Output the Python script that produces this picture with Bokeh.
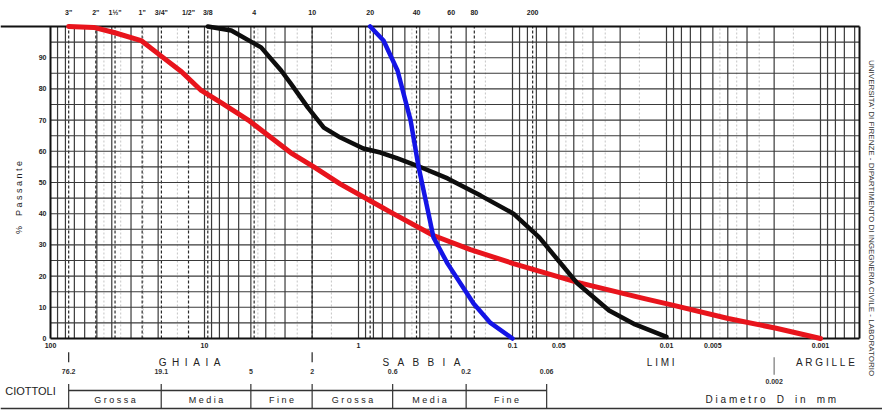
import math
from bokeh.plotting import figure
from bokeh.models import Range1d
from bokeh.embed import file_html
from bokeh.resources import INLINE
from bokeh.core.properties import value

FONT = "Liberation Sans"
NB = "\u00a0"

# ---------------- data (diameter in mm, % passing) ----------------
red_d = [76.2, 52.4, 38.2, 25.8, 19.1, 14.1, 10.5, 7.76, 5.2, 2.75, 1.95, 1.31,
         0.72, 0.62, 0.326, 0.1875, 0.0986, 0.0378, 0.0139, 0.00898, 0.00398, 0.00194, 0.001]
red_p = [100, 99.7, 98, 95.5, 90.5, 85.5, 79.5, 75.5, 70, 59.5, 55, 49.5,
         42.3, 40.5, 33, 28.5, 24, 18, 12.8, 10.6, 6.4, 3.3, 0]

black_d = [9.52, 6.70, 4.29, 3.18, 2.75, 2.13, 1.68, 1.31, 0.93, 0.72, 0.558, 0.408,
           0.264, 0.161, 0.0986, 0.067, 0.0504, 0.0378, 0.0236, 0.016, 0.01]
black_p = [100, 98.7, 93.3, 85.9, 81.7, 74, 67.6, 64.4, 60.9, 59.6, 57.7, 55.2,
           51.3, 45.8, 40, 32.4, 25, 17.6, 9, 4.5, 0.5]

blue_d = [0.84, 0.688, 0.558, 0.459, 0.408, 0.351, 0.326, 0.264, 0.179, 0.139, 0.1]
blue_p = [100, 95.5, 85.9, 69.9, 55.2, 40, 32.4, 24, 11.2, 5, 0]

y_ticks = [0, 10, 20, 30, 40, 50, 60, 70, 80, 90]
h_lines = [5, 10, 15, 20, 25, 30, 35, 40, 45, 50, 55, 60, 65, 70, 75, 80, 85, 90, 95]

sieve_mm = [76.2, 50.8, 38.1, 25.4, 19.05, 12.7, 9.52, 4.76, 2.0, 0.84, 0.42, 0.25, 0.177, 0.074]
sieve_labels = ['3"', '2"', '1½"', '1"', '3/4"', '1/2"', '3/8', '4', '10', '20', '40', '60', '80', '200']

x_ticks = [100, 10, 1, 0.1, 0.05, 0.01, 0.005, 0.001]
x_tick_labels = ["100", "10", "1", "0.1", "0.05", "0.01", "0.005", "0.001"]

classes = ["GHIAIA", "SABBIA", "LIMI", "ARGILLE"]
class_gap = [2, 3, 1, 1]
class_pos = [12.5, 0.39, 0.0109, 0.00093]

bounds = [76.2, 19.1, 5, 2, 0.6, 0.2, 0.06]
bound_labels = ["76.2", "19.1", "5", "2", "0.6", "0.2", "0.06"]
main_bounds = [76.2, 2]
clay_bound = [0.002]
clay_label = ["0.002"]

sub_classes = ["Grossa", "Media", "Fine", "Grossa", "Media", "Fine"]

y_title = "% Passante"
side_text = "UNIVERSITA' DI FIRENZE - DIPARTIMENTO DI INGEGNERIA CIVILE - LABORATORIO"


def spaced(s, n=1):
    return (NB * n).join(ch if ch != " " else NB * 2 for ch in s)


# ---------------- figure: the frame is the whole sheet ----------------
X0, X1 = 211.2, 0.0003957     # full width of the sheet
XL, XR = 100, 0.000558        # border of the diagram
p = figure(width=882, height=418, x_axis_type="log",
           x_axis_location=None, y_axis_location=None,
           x_range=Range1d(X0, X1), y_range=Range1d(-25.64, 108.33),
           toolbar_location=None, output_backend="svg",
           min_border_left=0, min_border_right=0, min_border_top=0, min_border_bottom=0)
p.outline_line_color = None
p.background_fill_color = "white"
p.border_fill_color = "white"
p.xgrid.grid_line_color = None
p.ygrid.grid_line_color = None

# ---------------- grid of the paper ----------------
solid_x, faint_x = [], []
for k in range(-4, 2):
    for m in range(1, 10):
        v = m * 10 ** k
        if XR < v < XL:
            solid_x.append(v)
    for m in (1.5, 2.5, 3.5, 4.5):
        v = m * 10 ** k
        if XR < v < XL:
            faint_x.append(v)

p.segment(x0=faint_x, y0=[0] * len(faint_x), x1=faint_x, y1=[100] * len(faint_x),
          line_color="#c4c4c4", line_width=1, line_dash="2 2")
p.segment(x0=solid_x, y0=[0] * len(solid_x), x1=solid_x, y1=[100] * len(solid_x),
          line_color="#3a3a3a", line_width=1.2)
p.segment(x0=sieve_mm, y0=[0] * len(sieve_mm), x1=sieve_mm, y1=[100] * len(sieve_mm),
          line_color="#2a2a2a", line_width=1.2, line_dash="3 2")
p.segment(x0=[XL] * len(h_lines), y0=h_lines, x1=[XR] * len(h_lines), y1=h_lines,
          line_color="#3a3a3a", line_width=1.1)
p.segment(x0=[XL, X0, XL, XR], y0=[0, 100, 0, 0], x1=[XR, XR, XL, XR], y1=[0, 100, 100, 100],
          line_color="#111111", line_width=2)

# top labels: sieve numbers
p.text(x=sieve_mm, y=[104.4] * len(sieve_mm), text=sieve_labels,
       text_font=value(FONT), text_font_size="7px", text_font_style="bold",
       text_align="center", text_baseline="middle", text_color="#222222")

# y tick labels and title
p.text(x=[XL] * len(y_ticks), y=y_ticks, text=[str(t) for t in y_ticks], x_offset=-4,
       text_font=value(FONT), text_font_size="7px", text_font_style="bold",
       text_align="right", text_baseline="middle", text_color="#222222")
p.text(x=[161.3], y=[45.2], text=[spaced(y_title)], angle=math.pi / 2,
       text_font=value(FONT), text_font_size="9px", text_align="center",
       text_baseline="middle", text_color="#222222")

# ---------------- curves ----------------
p.line(red_d, red_p, line_color="#e8141c", line_width=5, line_join="round", line_cap="round")
p.line(black_d, black_p, line_color="#0d0d0d", line_width=4.5, line_join="round", line_cap="round")
p.line(blue_d, blue_p, line_color="#1414e6", line_width=4.5, line_join="round", line_cap="round")

# ---------------- classification band ----------------
Y_XLAB = -2.24
Y_CLASS = -7.7
Y_BLAB = -10.6
Y_ROW = -16.67
Y_SUB = -19.6
Y_BOT = -22.44

p.text(x=x_ticks, y=[Y_XLAB] * len(x_ticks), text=x_tick_labels, text_font=value(FONT),
       text_font_size="7px", text_font_style="bold", text_align="center",
       text_baseline="middle", text_color="#222222")

p.segment(x0=main_bounds, y0=[-4.4] * len(main_bounds), x1=main_bounds, y1=[-7.6] * len(main_bounds),
          line_color="#222222", line_width=1.2)
p.segment(x0=clay_bound, y0=[-6.0], x1=clay_bound, y1=[-11.6], line_color="#777777", line_width=1.2)
p.segment(x0=[bounds[0]], y0=[Y_ROW], x1=[bounds[-1]], y1=[Y_ROW], line_color="#333333", line_width=1.4)
p.segment(x0=bounds, y0=[-14.6] * len(bounds), x1=bounds, y1=[Y_BOT] * len(bounds),
          line_color="#333333", line_width=1.2)
p.segment(x0=[X0], y0=[Y_BOT], x1=[X1], y1=[Y_BOT], line_color="#333333", line_width=1.4)

p.text(x=class_pos, y=[Y_CLASS] * len(class_pos),
       text=[spaced(c, g) for c, g in zip(classes, class_gap)],
       text_font=value(FONT), text_font_size="10px", text_align="center",
       text_baseline="middle", text_color="#222222")
p.text(x=bounds, y=[Y_BLAB] * len(bounds), text=bound_labels, text_font=value(FONT),
       text_font_size="7px", text_font_style="bold", text_align="center", text_baseline="middle",
       text_color="#333333")
p.text(x=clay_bound, y=[-13.8], text=clay_label, text_font=value(FONT),
       text_font_size="7px", text_font_style="bold", text_align="center", text_baseline="middle",
       text_color="#333333")
sub_pos = [math.sqrt(bounds[i] * bounds[i + 1]) for i in range(len(bounds) - 1)]
p.text(x=sub_pos, y=[Y_SUB] * len(sub_pos), text=[spaced(s) for s in sub_classes],
       text_font=value(FONT), text_font_size="9px", text_align="center",
       text_baseline="middle", text_color="#222222")
p.text(x=[0.0021], y=[Y_SUB], text=[spaced("Diametro D in mm")], text_font=value(FONT),
       text_font_size="10px", text_align="center", text_baseline="middle", text_color="#222222")
p.text(x=[134.9], y=[Y_ROW], text=["CIOTTOLI"], text_font=value(FONT),
       text_font_size="11px", text_align="center", text_baseline="middle", text_color="#222222")
p.text(x=[0.000467], y=[38.5], text=[side_text], angle=-math.pi / 2,
       text_font=value(FONT), text_font_size="8px", text_align="center",
       text_baseline="middle", text_color="#333333")

open("out.html", "w").write(file_html(p, INLINE))
